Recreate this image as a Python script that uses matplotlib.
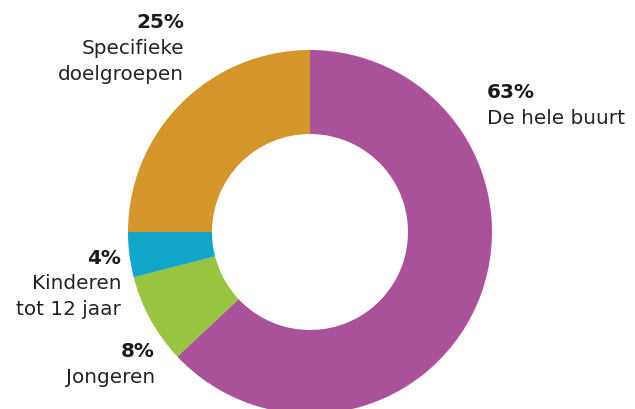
import matplotlib
matplotlib.use("Agg")
import matplotlib.pyplot as plt

labels = ["De hele buurt", "Jongeren", "Kinderen\ntot 12 jaar", "Specifieke\ndoelgroepen"]
values = [63, 8, 4, 25]
pcts = ["63%", "8%", "4%", "25%"]
colors = ["#A9529A", "#98C43F", "#12A5CA", "#D4952A"]

W, H = 635, 410
fig = plt.figure(figsize=(W / 100, H / 100), dpi=100)
ax = fig.add_axes([0, 0, 1, 1])

cx, cy = 310, H - 233
R = 182
ax.pie(values, colors=colors, startangle=90, counterclock=False,
       center=(cx, cy), radius=R, wedgeprops=dict(width=R - 98, linewidth=0),
       frame=True)
ax.set_xlim(0, W)
ax.set_ylim(0, H)
ax.set_aspect("equal")
ax.axis("off")

font = "DejaVu Sans"
fs = 14.4
# label positions (anchor x, first line y in pixels from top, alignment)
pos = [(487, 92, "left"), (155, 352, "right"), (121, 258, "right"), (184, 22, "right")]
for (x, y, ha), p, lab in zip(pos, pcts, labels):
    ax.text(x, H - y, p, ha=ha, va="center", fontsize=fs, fontweight="bold",
            family=font, color="#1a1a1a")
    for i, line in enumerate(lab.split("\n")):
        ax.text(x, H - (y + 26 * (i + 1)), line, ha=ha, va="center", fontsize=fs,
                family=font, color="#222222")

fig.savefig("out.png", dpi=100)
